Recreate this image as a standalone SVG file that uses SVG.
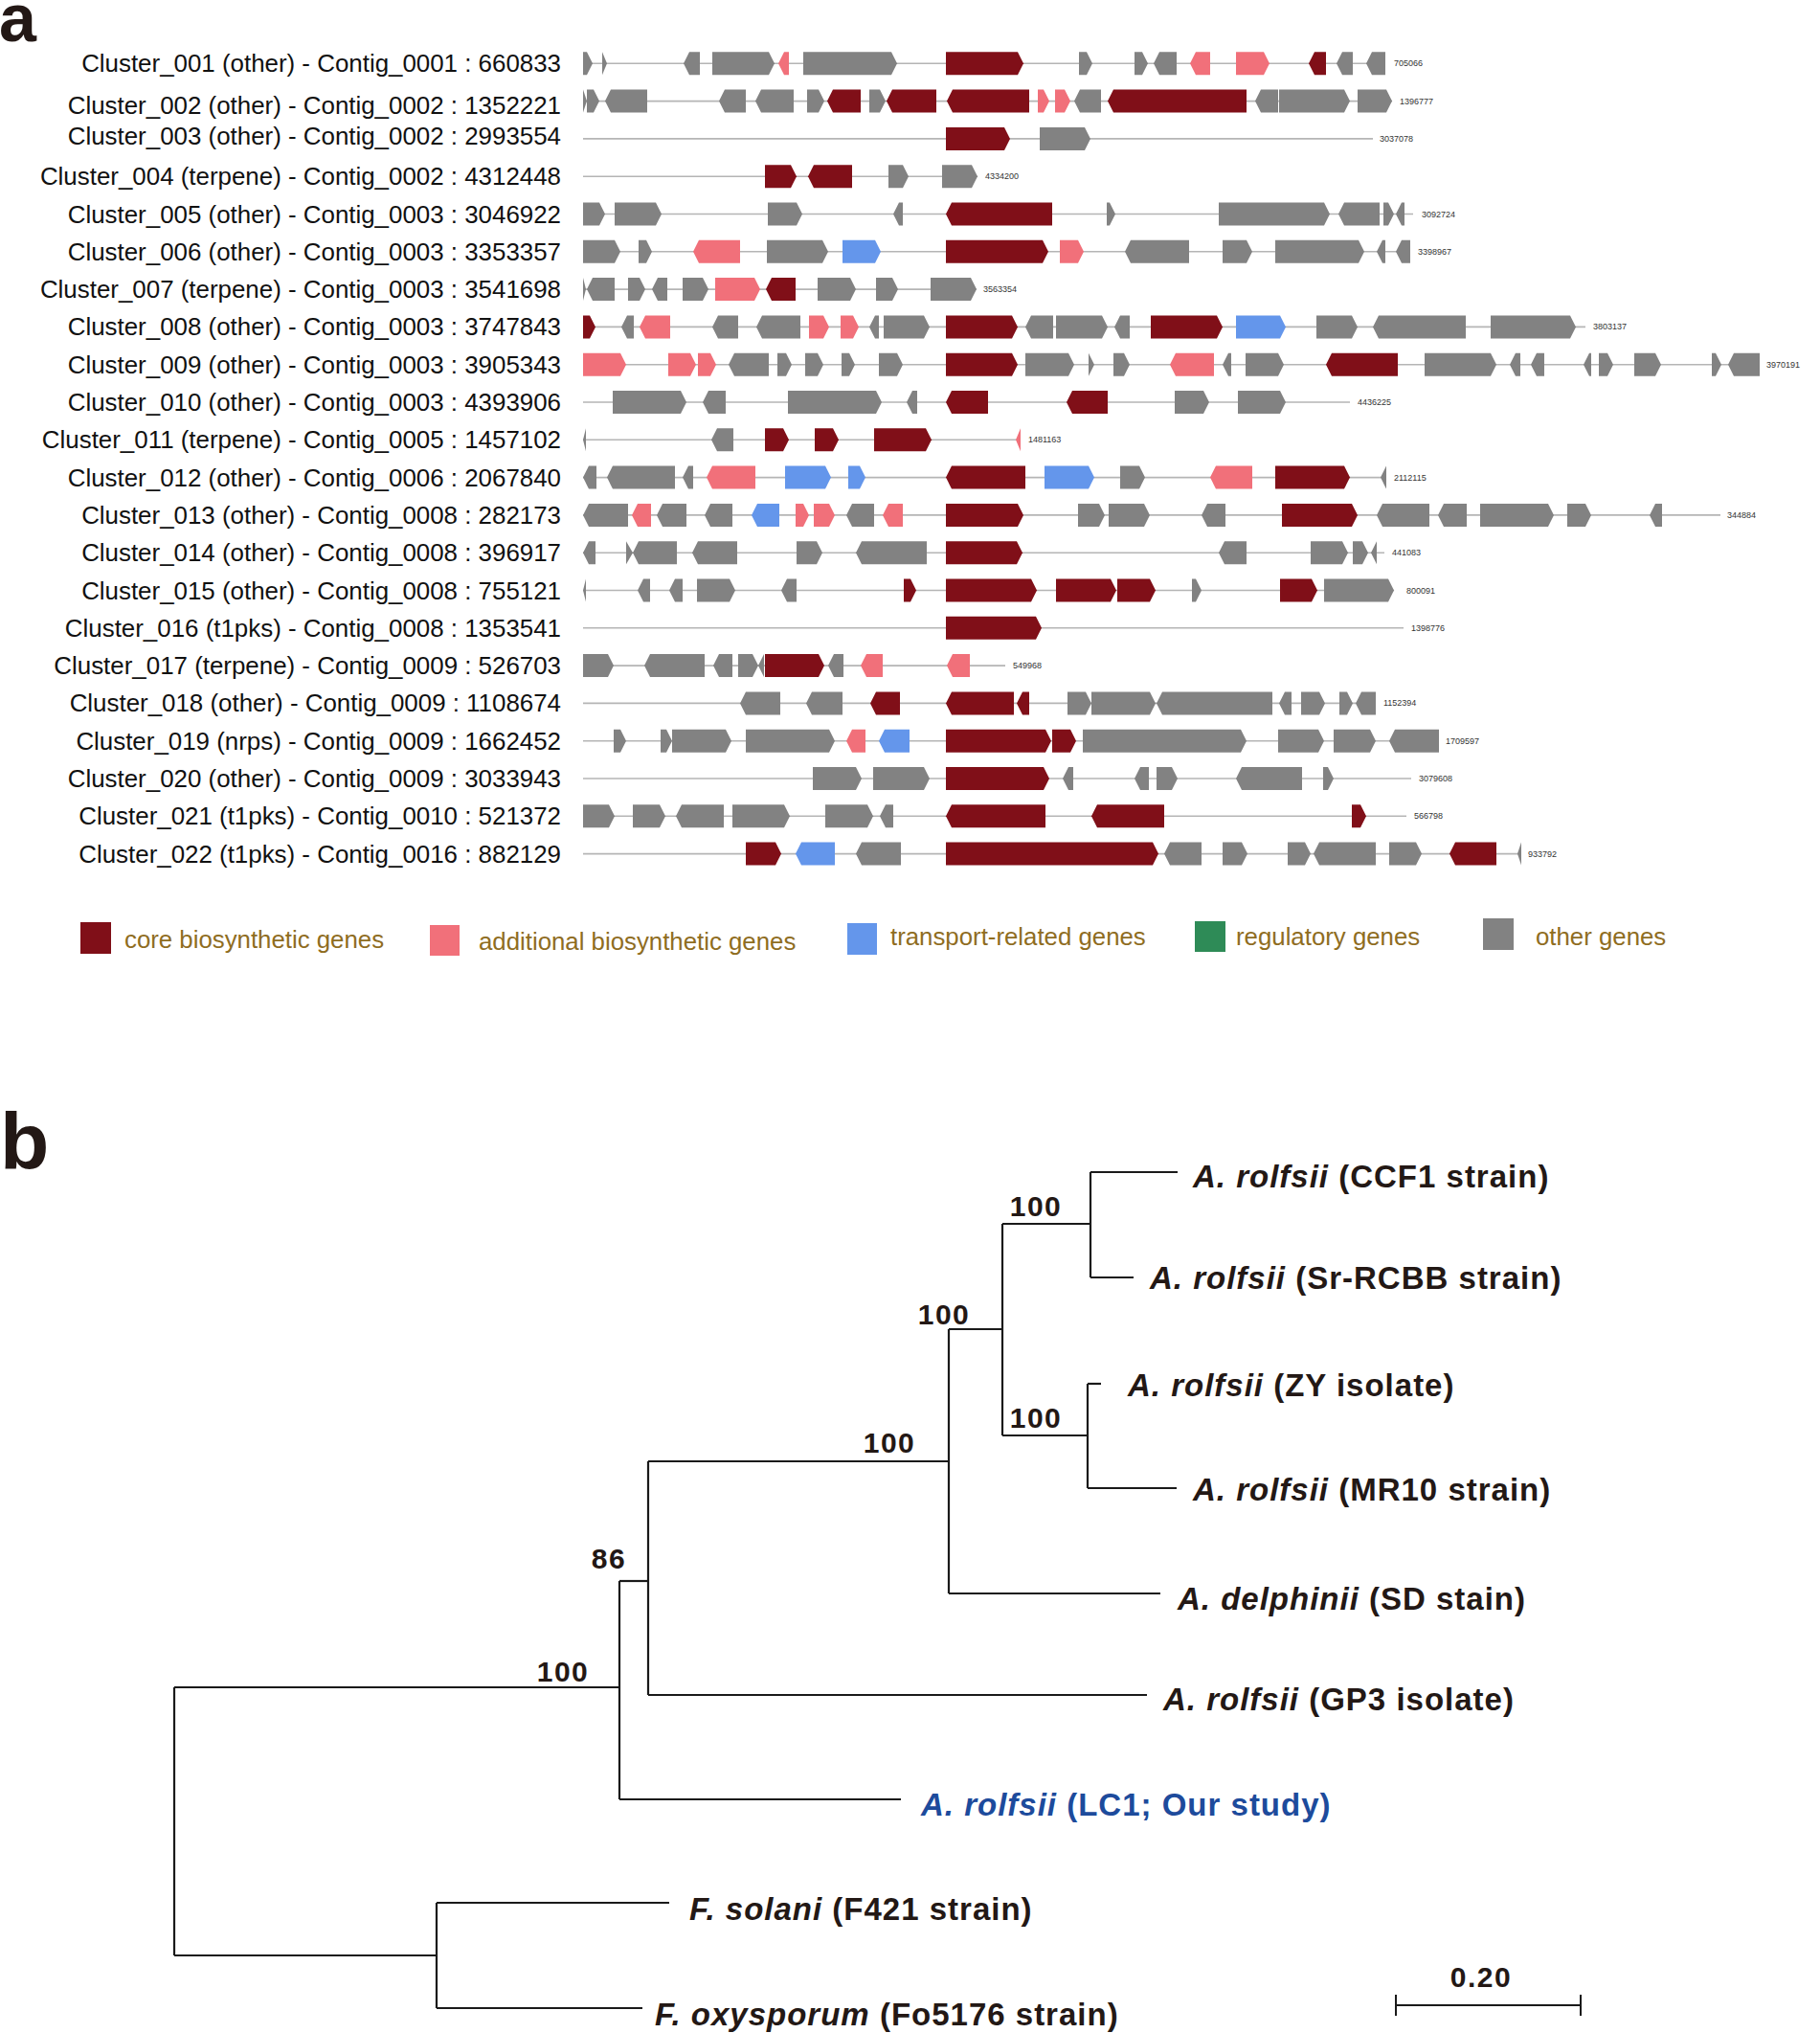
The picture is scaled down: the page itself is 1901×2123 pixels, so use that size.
<svg xmlns="http://www.w3.org/2000/svg" width="1901" height="2123" viewBox="0 0 1901 2123">
<style>
.c{fill:#800f18}.a{fill:#f1707a}.t{fill:#6496eb}.o{fill:#828282}.r{fill:#2e8b57}
.bb{stroke:#b5b5b5;stroke-width:1.6}
.lbl{font-family:"Liberation Sans",Arial,sans-serif;font-size:25.9px;text-anchor:end;fill:#111}
.end{font-family:"Liberation Sans",Arial,sans-serif;font-size:9px;fill:#333}
.leg{font-family:"Liberation Sans",Arial,sans-serif;font-size:25.8px;fill:#8f6d1f}
.pan{font-family:"Liberation Sans",Arial,sans-serif;font-weight:bold;fill:#231815}
.tree{stroke:#1a1a1a;stroke-width:2.2;fill:none}
.bs{font-family:"Liberation Sans",Arial,sans-serif;font-weight:bold;font-size:30px;fill:#231815;text-anchor:middle;letter-spacing:1.5px}
.leaf{font-family:"Liberation Sans",Arial,sans-serif;font-weight:bold;font-size:33px;fill:#231815;letter-spacing:1px}
.it{font-style:italic}
</style>
<text class="pan" x="-1" y="43" font-size="70">a</text>
<text class="pan" x="0" y="1221" font-size="84">b</text>

<g id="row01" transform="translate(0,66.3)">
<text class="lbl" x="586" y="9">Cluster_001 (other) - Contig_0001 : 660833</text>
<line class="bb" x1="609" y1="0" x2="1447" y2="0"/>
<polygon class="o" points="609,-12 613,-12 619,0 613,12 609,12"/>
<polygon class="o" points="629,-12 634,0 629,12"/>
<polygon class="o" points="714,0 720,-12 731,-12 731,12 720,12"/>
<polygon class="o" points="744,-12 803,-12 809,0 803,12 744,12"/>
<polygon class="a" points="813,0 819,-12 824,-12 824,12 819,12"/>
<polygon class="o" points="839,-12 931,-12 937,0 931,12 839,12"/>
<polygon class="c" points="988,-12 1063,-12 1069,0 1063,12 988,12"/>
<polygon class="o" points="1127,-12 1135,-12 1141,0 1135,12 1127,12"/>
<polygon class="o" points="1185,-12 1193,-12 1199,0 1193,12 1185,12"/>
<polygon class="o" points="1205,0 1211,-12 1229,-12 1229,12 1211,12"/>
<polygon class="a" points="1243,0 1249,-12 1264,-12 1264,12 1249,12"/>
<polygon class="a" points="1291,-12 1320,-12 1326,0 1320,12 1291,12"/>
<polygon class="c" points="1367,0 1373,-12 1385,-12 1385,12 1373,12"/>
<polygon class="o" points="1396,0 1402,-12 1413,-12 1413,12 1402,12"/>
<polygon class="o" points="1427,0 1433,-12 1447,-12 1447,12 1433,12"/>
<text class="end" x="1456" y="3">705066</text>
</g>

<g id="row02" transform="translate(0,105.6)">
<text class="lbl" x="586" y="13">Cluster_002 (other) - Contig_0002 : 1352221</text>
<line class="bb" x1="609" y1="0" x2="1454" y2="0"/>
<polygon class="o" points="609,-12 613,0 609,12"/>
<polygon class="o" points="613,-12 620,-12 626,0 620,12 613,12"/>
<polygon class="o" points="632,0 638,-12 676,-12 676,12 638,12"/>
<polygon class="o" points="751,0 757,-12 779,-12 779,12 757,12"/>
<polygon class="o" points="789,0 795,-12 829,-12 829,12 795,12"/>
<polygon class="o" points="843,-12 855,-12 861,0 855,12 843,12"/>
<polygon class="c" points="864,0 870,-12 899,-12 899,12 870,12"/>
<polygon class="o" points="908,-12 919,-12 925,0 919,12 908,12"/>
<polygon class="c" points="926,0 932,-12 978,-12 978,12 932,12"/>
<polygon class="c" points="989,0 995,-12 1075,-12 1075,12 995,12"/>
<polygon class="a" points="1084,-12 1090,-12 1096,0 1090,12 1084,12"/>
<polygon class="a" points="1102,-12 1112,-12 1118,0 1112,12 1102,12"/>
<polygon class="o" points="1122,0 1128,-12 1150,-12 1150,12 1128,12"/>
<polygon class="c" points="1157,0 1163,-12 1302,-12 1302,12 1163,12"/>
<polygon class="o" points="1311,0 1317,-12 1335,-12 1335,12 1317,12"/>
<polygon class="o" points="1336,-12 1404,-12 1410,0 1404,12 1336,12"/>
<polygon class="o" points="1418,-12 1448,-12 1454,0 1448,12 1418,12"/>
<text class="end" x="1462" y="3">1396777</text>
</g>

<g id="row03" transform="translate(0,144.9)">
<text class="lbl" x="586" y="6">Cluster_003 (other) - Contig_0002 : 2993554</text>
<line class="bb" x1="609" y1="0" x2="1434" y2="0"/>
<polygon class="c" points="988,-12 1049,-12 1055,0 1049,12 988,12"/>
<polygon class="o" points="1086,-12 1133,-12 1139,0 1133,12 1086,12"/>
<text class="end" x="1441" y="3">3037078</text>
</g>

<g id="row04" transform="translate(0,184.2)">
<text class="lbl" x="586" y="9">Cluster_004 (terpene) - Contig_0002 : 4312448</text>
<line class="bb" x1="609" y1="0" x2="1021" y2="0"/>
<polygon class="c" points="799,-12 826,-12 832,0 826,12 799,12"/>
<polygon class="c" points="844,0 850,-12 890,-12 890,12 850,12"/>
<polygon class="o" points="928,-12 943,-12 949,0 943,12 928,12"/>
<polygon class="o" points="984,-12 1015,-12 1021,0 1015,12 984,12"/>
<text class="end" x="1029" y="3">4334200</text>
</g>

<g id="row05" transform="translate(0,223.5)">
<text class="lbl" x="586" y="9">Cluster_005 (other) - Contig_0003 : 3046922</text>
<line class="bb" x1="609" y1="0" x2="1476" y2="0"/>
<polygon class="o" points="609,-12 626,-12 632,0 626,12 609,12"/>
<polygon class="o" points="642,-12 685,-12 691,0 685,12 642,12"/>
<polygon class="o" points="802,-12 832,-12 838,0 832,12 802,12"/>
<polygon class="o" points="933,0 939,-12 943,-12 943,12 939,12"/>
<polygon class="c" points="988,0 994,-12 1099,-12 1099,12 994,12"/>
<polygon class="o" points="1156,-12 1159,-12 1165,0 1159,12 1156,12"/>
<polygon class="o" points="1273,-12 1383,-12 1389,0 1383,12 1273,12"/>
<polygon class="o" points="1398,0 1404,-12 1441,-12 1441,12 1404,12"/>
<polygon class="o" points="1445,-12 1450,-12 1456,0 1450,12 1445,12"/>
<polygon class="o" points="1458,0 1464,-12 1467,-12 1467,12 1464,12"/>
<text class="end" x="1485" y="3">3092724</text>
</g>

<g id="row06" transform="translate(0,262.8)">
<text class="lbl" x="586" y="9">Cluster_006 (other) - Contig_0003 : 3353357</text>
<line class="bb" x1="609" y1="0" x2="1473" y2="0"/>
<polygon class="o" points="609,-12 642,-12 648,0 642,12 609,12"/>
<polygon class="o" points="667,-12 675,-12 681,0 675,12 667,12"/>
<polygon class="a" points="724,0 730,-12 773,-12 773,12 730,12"/>
<polygon class="o" points="801,-12 859,-12 865,0 859,12 801,12"/>
<polygon class="t" points="880,-12 914,-12 920,0 914,12 880,12"/>
<polygon class="c" points="988,-12 1089,-12 1095,0 1089,12 988,12"/>
<polygon class="a" points="1107,-12 1126,-12 1132,0 1126,12 1107,12"/>
<polygon class="o" points="1175,0 1181,-12 1242,-12 1242,12 1181,12"/>
<polygon class="o" points="1277,-12 1302,-12 1308,0 1302,12 1277,12"/>
<polygon class="o" points="1332,-12 1419,-12 1425,0 1419,12 1332,12"/>
<polygon class="o" points="1438,0 1444,-12 1447,-12 1447,12 1444,12"/>
<polygon class="o" points="1458,0 1464,-12 1473,-12 1473,12 1464,12"/>
<text class="end" x="1481" y="3">3398967</text>
</g>

<g id="row07" transform="translate(0,302.1)">
<text class="lbl" x="586" y="9">Cluster_007 (terpene) - Contig_0003 : 3541698</text>
<line class="bb" x1="609" y1="0" x2="1020" y2="0"/>
<polygon class="o" points="609,-12 612,0 609,12"/>
<polygon class="o" points="613,0 619,-12 642,-12 642,12 619,12"/>
<polygon class="o" points="656,-12 668,-12 674,0 668,12 656,12"/>
<polygon class="o" points="681,0 687,-12 697,-12 697,12 687,12"/>
<polygon class="o" points="713,-12 734,-12 740,0 734,12 713,12"/>
<polygon class="a" points="747,-12 788,-12 794,0 788,12 747,12"/>
<polygon class="c" points="800,0 806,-12 831,-12 831,12 806,12"/>
<polygon class="o" points="854,-12 888,-12 894,0 888,12 854,12"/>
<polygon class="o" points="915,-12 932,-12 938,0 932,12 915,12"/>
<polygon class="o" points="972,-12 1014,-12 1020,0 1014,12 972,12"/>
<text class="end" x="1027" y="3">3563354</text>
</g>

<g id="row08" transform="translate(0,341.4)">
<text class="lbl" x="586" y="9">Cluster_008 (other) - Contig_0003 : 3747843</text>
<line class="bb" x1="609" y1="0" x2="1656" y2="0"/>
<polygon class="c" points="609,-12 616,-12 622,0 616,12 609,12"/>
<polygon class="o" points="649,0 655,-12 662,-12 662,12 655,12"/>
<polygon class="a" points="668,0 674,-12 700,-12 700,12 674,12"/>
<polygon class="o" points="744,0 750,-12 771,-12 771,12 750,12"/>
<polygon class="o" points="790,0 796,-12 836,-12 836,12 796,12"/>
<polygon class="a" points="845,-12 860,-12 866,0 860,12 845,12"/>
<polygon class="a" points="878,-12 891,-12 897,0 891,12 878,12"/>
<polygon class="o" points="908,0 914,-12 918,-12 918,12 914,12"/>
<polygon class="o" points="923,-12 965,-12 971,0 965,12 923,12"/>
<polygon class="c" points="988,-12 1057,-12 1063,0 1057,12 988,12"/>
<polygon class="o" points="1071,0 1077,-12 1100,-12 1100,12 1077,12"/>
<polygon class="o" points="1103,-12 1151,-12 1157,0 1151,12 1103,12"/>
<polygon class="o" points="1164,0 1170,-12 1180,-12 1180,12 1170,12"/>
<polygon class="c" points="1202,-12 1271,-12 1277,0 1271,12 1202,12"/>
<polygon class="t" points="1291,-12 1337,-12 1343,0 1337,12 1291,12"/>
<polygon class="o" points="1375,-12 1412,-12 1418,0 1412,12 1375,12"/>
<polygon class="o" points="1434,0 1440,-12 1531,-12 1531,12 1440,12"/>
<polygon class="o" points="1557,-12 1640,-12 1646,0 1640,12 1557,12"/>
<text class="end" x="1664" y="3">3803137</text>
</g>

<g id="row09" transform="translate(0,380.7)">
<text class="lbl" x="586" y="9">Cluster_009 (other) - Contig_0003 : 3905343</text>
<line class="bb" x1="609" y1="0" x2="1838" y2="0"/>
<polygon class="a" points="609,-12 648,-12 654,0 648,12 609,12"/>
<polygon class="a" points="698,-12 721,-12 727,0 721,12 698,12"/>
<polygon class="a" points="729,-12 742,-12 748,0 742,12 729,12"/>
<polygon class="o" points="761,0 767,-12 803,-12 803,12 767,12"/>
<polygon class="o" points="812,-12 821,-12 827,0 821,12 812,12"/>
<polygon class="o" points="841,-12 854,-12 860,0 854,12 841,12"/>
<polygon class="o" points="879,-12 887,-12 893,0 887,12 879,12"/>
<polygon class="o" points="918,-12 937,-12 943,0 937,12 918,12"/>
<polygon class="c" points="988,-12 1057,-12 1063,0 1057,12 988,12"/>
<polygon class="o" points="1071,-12 1116,-12 1122,0 1116,12 1071,12"/>
<polygon class="o" points="1137,-12 1143,0 1137,12"/>
<polygon class="o" points="1163,-12 1174,-12 1180,0 1174,12 1163,12"/>
<polygon class="a" points="1222,0 1228,-12 1268,-12 1268,12 1228,12"/>
<polygon class="o" points="1277,0 1283,-12 1286,-12 1286,12 1283,12"/>
<polygon class="o" points="1301,-12 1335,-12 1341,0 1335,12 1301,12"/>
<polygon class="c" points="1385,0 1391,-12 1460,-12 1460,12 1391,12"/>
<polygon class="o" points="1488,-12 1557,-12 1563,0 1557,12 1488,12"/>
<polygon class="o" points="1577,0 1583,-12 1588,-12 1588,12 1583,12"/>
<polygon class="o" points="1599,0 1605,-12 1613,-12 1613,12 1605,12"/>
<polygon class="o" points="1654,0 1660,-12 1662,-12 1662,12 1660,12"/>
<polygon class="o" points="1670,-12 1679,-12 1685,0 1679,12 1670,12"/>
<polygon class="o" points="1707,-12 1729,-12 1735,0 1729,12 1707,12"/>
<polygon class="o" points="1788,-12 1792,-12 1798,0 1792,12 1788,12"/>
<polygon class="o" points="1805,0 1811,-12 1838,-12 1838,12 1811,12"/>
<text class="end" x="1845" y="3">3970191</text>
</g>

<g id="row10" transform="translate(0,420)">
<text class="lbl" x="586" y="9">Cluster_010 (other) - Contig_0003 : 4393906</text>
<line class="bb" x1="609" y1="0" x2="1410" y2="0"/>
<polygon class="o" points="640,-12 711,-12 717,0 711,12 640,12"/>
<polygon class="o" points="734,0 740,-12 758,-12 758,12 740,12"/>
<polygon class="o" points="823,-12 915,-12 921,0 915,12 823,12"/>
<polygon class="o" points="947,0 953,-12 958,-12 958,12 953,12"/>
<polygon class="c" points="988,0 994,-12 1032,-12 1032,12 994,12"/>
<polygon class="c" points="1114,0 1120,-12 1157,-12 1157,12 1120,12"/>
<polygon class="o" points="1227,-12 1257,-12 1263,0 1257,12 1227,12"/>
<polygon class="o" points="1293,-12 1337,-12 1343,0 1337,12 1293,12"/>
<text class="end" x="1418" y="3">4436225</text>
</g>

<g id="row11" transform="translate(0,459.3)">
<text class="lbl" x="586" y="9">Cluster_011 (terpene) - Contig_0005 : 1457102</text>
<line class="bb" x1="609" y1="0" x2="1066" y2="0"/>
<polygon class="o" points="609,0 612,-12 612,12"/>
<polygon class="o" points="743,0 749,-12 766,-12 766,12 749,12"/>
<polygon class="c" points="799,-12 818,-12 824,0 818,12 799,12"/>
<polygon class="c" points="851,-12 870,-12 876,0 870,12 851,12"/>
<polygon class="c" points="913,-12 967,-12 973,0 967,12 913,12"/>
<polygon class="a" points="1061,0 1066,-12 1066,12"/>
<text class="end" x="1074" y="3">1481163</text>
</g>

<g id="row12" transform="translate(0,498.6)">
<text class="lbl" x="586" y="9">Cluster_012 (other) - Contig_0006 : 2067840</text>
<line class="bb" x1="609" y1="0" x2="1448" y2="0"/>
<polygon class="o" points="609,0 615,-12 623,-12 623,12 615,12"/>
<polygon class="o" points="634,0 640,-12 705,-12 705,12 640,12"/>
<polygon class="o" points="713,0 719,-12 724,-12 724,12 719,12"/>
<polygon class="a" points="738,0 744,-12 789,-12 789,12 744,12"/>
<polygon class="t" points="820,-12 862,-12 868,0 862,12 820,12"/>
<polygon class="t" points="886,-12 898,-12 904,0 898,12 886,12"/>
<polygon class="c" points="988,0 994,-12 1071,-12 1071,12 994,12"/>
<polygon class="t" points="1091,-12 1137,-12 1143,0 1137,12 1091,12"/>
<polygon class="o" points="1170,-12 1190,-12 1196,0 1190,12 1170,12"/>
<polygon class="a" points="1264,0 1270,-12 1308,-12 1308,12 1270,12"/>
<polygon class="c" points="1332,-12 1404,-12 1410,0 1404,12 1332,12"/>
<polygon class="o" points="1442,0 1448,-12 1448,12"/>
<text class="end" x="1456" y="3">2112115</text>
</g>

<g id="row13" transform="translate(0,537.9)">
<text class="lbl" x="586" y="9">Cluster_013 (other) - Contig_0008 : 282173</text>
<line class="bb" x1="609" y1="0" x2="1797" y2="0"/>
<polygon class="o" points="609,0 615,-12 656,-12 656,12 615,12"/>
<polygon class="a" points="660,0 666,-12 680,-12 680,12 666,12"/>
<polygon class="o" points="686,0 692,-12 717,-12 717,12 692,12"/>
<polygon class="o" points="736,0 742,-12 765,-12 765,12 742,12"/>
<polygon class="t" points="785,0 791,-12 814,-12 814,12 791,12"/>
<polygon class="a" points="831,-12 839,-12 845,0 839,12 831,12"/>
<polygon class="a" points="850,-12 866,-12 872,0 866,12 850,12"/>
<polygon class="o" points="884,0 890,-12 913,-12 913,12 890,12"/>
<polygon class="a" points="922,0 928,-12 943,-12 943,12 928,12"/>
<polygon class="c" points="988,-12 1063,-12 1069,0 1063,12 988,12"/>
<polygon class="o" points="1126,-12 1148,-12 1154,0 1148,12 1126,12"/>
<polygon class="o" points="1158,-12 1195,-12 1201,0 1195,12 1158,12"/>
<polygon class="o" points="1255,0 1261,-12 1280,-12 1280,12 1261,12"/>
<polygon class="c" points="1339,-12 1412,-12 1418,0 1412,12 1339,12"/>
<polygon class="o" points="1438,0 1444,-12 1493,-12 1493,12 1444,12"/>
<polygon class="o" points="1502,0 1508,-12 1532,-12 1532,12 1508,12"/>
<polygon class="o" points="1546,-12 1617,-12 1623,0 1617,12 1546,12"/>
<polygon class="o" points="1637,-12 1656,-12 1662,0 1656,12 1637,12"/>
<polygon class="o" points="1723,0 1729,-12 1736,-12 1736,12 1729,12"/>
<text class="end" x="1804" y="3">344884</text>
</g>

<g id="row14" transform="translate(0,577.2)">
<text class="lbl" x="586" y="9">Cluster_014 (other) - Contig_0008 : 396917</text>
<line class="bb" x1="609" y1="0" x2="1446" y2="0"/>
<polygon class="o" points="609,0 615,-12 622,-12 622,12 615,12"/>
<polygon class="o" points="654,-12 661,0 654,12"/>
<polygon class="o" points="661,0 667,-12 707,-12 707,12 667,12"/>
<polygon class="o" points="723,0 729,-12 770,-12 770,12 729,12"/>
<polygon class="o" points="832,-12 853,-12 859,0 853,12 832,12"/>
<polygon class="o" points="894,0 900,-12 968,-12 968,12 900,12"/>
<polygon class="c" points="988,-12 1062,-12 1068,0 1062,12 988,12"/>
<polygon class="o" points="1273,0 1279,-12 1302,-12 1302,12 1279,12"/>
<polygon class="o" points="1369,-12 1402,-12 1408,0 1402,12 1369,12"/>
<polygon class="o" points="1413,-12 1423,-12 1429,0 1423,12 1413,12"/>
<polygon class="o" points="1432,0 1438,-12 1438,12"/>
<text class="end" x="1454" y="3">441083</text>
</g>

<g id="row15" transform="translate(0,616.5)">
<text class="lbl" x="586" y="9">Cluster_015 (other) - Contig_0008 : 755121</text>
<line class="bb" x1="609" y1="0" x2="1456" y2="0"/>
<polygon class="o" points="609,0 612,-12 612,12"/>
<polygon class="o" points="666,0 672,-12 679,-12 679,12 672,12"/>
<polygon class="o" points="699,0 705,-12 713,-12 713,12 705,12"/>
<polygon class="o" points="728,-12 762,-12 768,0 762,12 728,12"/>
<polygon class="o" points="816,0 822,-12 832,-12 832,12 822,12"/>
<polygon class="c" points="944,-12 951,-12 957,0 951,12 944,12"/>
<polygon class="c" points="988,-12 1077,-12 1083,0 1077,12 988,12"/>
<polygon class="c" points="1103,-12 1160,-12 1166,0 1160,12 1103,12"/>
<polygon class="c" points="1167,-12 1201,-12 1207,0 1201,12 1167,12"/>
<polygon class="o" points="1245,-12 1249,-12 1255,0 1249,12 1245,12"/>
<polygon class="c" points="1337,-12 1370,-12 1376,0 1370,12 1337,12"/>
<polygon class="o" points="1383,-12 1450,-12 1456,0 1450,12 1383,12"/>
<text class="end" x="1469" y="3">800091</text>
</g>

<g id="row16" transform="translate(0,655.8)">
<text class="lbl" x="586" y="9">Cluster_016 (t1pks) - Contig_0008 : 1353541</text>
<line class="bb" x1="609" y1="0" x2="1466" y2="0"/>
<polygon class="c" points="988,-12 1082,-12 1088,0 1082,12 988,12"/>
<text class="end" x="1474" y="3">1398776</text>
</g>

<g id="row17" transform="translate(0,695.1)">
<text class="lbl" x="586" y="9">Cluster_017 (terpene) - Contig_0009 : 526703</text>
<line class="bb" x1="609" y1="0" x2="1050" y2="0"/>
<polygon class="o" points="609,-12 635,-12 641,0 635,12 609,12"/>
<polygon class="o" points="673,0 679,-12 736,-12 736,12 679,12"/>
<polygon class="o" points="745,0 751,-12 765,-12 765,12 751,12"/>
<polygon class="o" points="771,-12 786,-12 792,0 786,12 771,12"/>
<polygon class="o" points="792,0 798,-12 798,12"/>
<polygon class="c" points="799,-12 855,-12 861,0 855,12 799,12"/>
<polygon class="o" points="865,0 871,-12 881,-12 881,12 871,12"/>
<polygon class="a" points="899,0 905,-12 922,-12 922,12 905,12"/>
<polygon class="a" points="989,0 995,-12 1013,-12 1013,12 995,12"/>
<text class="end" x="1058" y="3">549968</text>
</g>

<g id="row18" transform="translate(0,734.4)">
<text class="lbl" x="586" y="9">Cluster_018 (other) - Contig_0009 : 1108674</text>
<line class="bb" x1="609" y1="0" x2="1437" y2="0"/>
<polygon class="o" points="773,0 779,-12 815,-12 815,12 779,12"/>
<polygon class="o" points="842,0 848,-12 880,-12 880,12 848,12"/>
<polygon class="c" points="909,0 915,-12 940,-12 940,12 915,12"/>
<polygon class="c" points="988,0 994,-12 1059,-12 1059,12 994,12"/>
<polygon class="c" points="1062,0 1068,-12 1075,-12 1075,12 1068,12"/>
<polygon class="o" points="1115,-12 1134,-12 1140,0 1134,12 1115,12"/>
<polygon class="o" points="1140,-12 1201,-12 1207,0 1201,12 1140,12"/>
<polygon class="o" points="1208,0 1214,-12 1329,-12 1329,12 1214,12"/>
<polygon class="o" points="1336,0 1342,-12 1349,-12 1349,12 1342,12"/>
<polygon class="o" points="1359,-12 1378,-12 1384,0 1378,12 1359,12"/>
<polygon class="o" points="1399,-12 1407,-12 1413,0 1407,12 1399,12"/>
<polygon class="o" points="1416,0 1422,-12 1437,-12 1437,12 1422,12"/>
<text class="end" x="1445" y="3">1152394</text>
</g>

<g id="row19" transform="translate(0,773.7)">
<text class="lbl" x="586" y="9">Cluster_019 (nrps) - Contig_0009 : 1662452</text>
<line class="bb" x1="609" y1="0" x2="1503" y2="0"/>
<polygon class="o" points="641,-12 648,-12 654,0 648,12 641,12"/>
<polygon class="o" points="690,-12 696,-12 702,0 696,12 690,12"/>
<polygon class="o" points="702,-12 758,-12 764,0 758,12 702,12"/>
<polygon class="o" points="779,-12 866,-12 872,0 866,12 779,12"/>
<polygon class="a" points="884,0 890,-12 904,-12 904,12 890,12"/>
<polygon class="t" points="918,0 924,-12 950,-12 950,12 924,12"/>
<polygon class="c" points="988,-12 1092,-12 1098,0 1092,12 988,12"/>
<polygon class="c" points="1099,-12 1118,-12 1124,0 1118,12 1099,12"/>
<polygon class="o" points="1131,-12 1296,-12 1302,0 1296,12 1131,12"/>
<polygon class="o" points="1335,-12 1377,-12 1383,0 1377,12 1335,12"/>
<polygon class="o" points="1393,-12 1431,-12 1437,0 1431,12 1393,12"/>
<polygon class="o" points="1451,0 1457,-12 1503,-12 1503,12 1457,12"/>
<text class="end" x="1510" y="3">1709597</text>
</g>

<g id="row20" transform="translate(0,813)">
<text class="lbl" x="586" y="9">Cluster_020 (other) - Contig_0009 : 3033943</text>
<line class="bb" x1="609" y1="0" x2="1474" y2="0"/>
<polygon class="o" points="849,-12 894,-12 900,0 894,12 849,12"/>
<polygon class="o" points="912,-12 965,-12 971,0 965,12 912,12"/>
<polygon class="c" points="988,-12 1090,-12 1096,0 1090,12 988,12"/>
<polygon class="o" points="1110,0 1116,-12 1121,-12 1121,12 1116,12"/>
<polygon class="o" points="1185,0 1191,-12 1200,-12 1200,12 1191,12"/>
<polygon class="o" points="1208,-12 1224,-12 1230,0 1224,12 1208,12"/>
<polygon class="o" points="1291,0 1297,-12 1360,-12 1360,12 1297,12"/>
<polygon class="o" points="1382,-12 1387,-12 1393,0 1387,12 1382,12"/>
<text class="end" x="1482" y="3">3079608</text>
</g>

<g id="row21" transform="translate(0,852.3)">
<text class="lbl" x="586" y="9">Cluster_021 (t1pks) - Contig_0010 : 521372</text>
<line class="bb" x1="609" y1="0" x2="1469" y2="0"/>
<polygon class="o" points="609,-12 636,-12 642,0 636,12 609,12"/>
<polygon class="o" points="661,-12 689,-12 695,0 689,12 661,12"/>
<polygon class="o" points="706,0 712,-12 756,-12 756,12 712,12"/>
<polygon class="o" points="765,-12 819,-12 825,0 819,12 765,12"/>
<polygon class="o" points="862,-12 906,-12 912,0 906,12 862,12"/>
<polygon class="o" points="919,0 925,-12 933,-12 933,12 925,12"/>
<polygon class="c" points="988,0 994,-12 1092,-12 1092,12 994,12"/>
<polygon class="c" points="1140,0 1146,-12 1216,-12 1216,12 1146,12"/>
<polygon class="c" points="1412,-12 1421,-12 1427,0 1421,12 1412,12"/>
<text class="end" x="1477" y="3">566798</text>
</g>

<g id="row22" transform="translate(0,891.6)">
<text class="lbl" x="586" y="9">Cluster_022 (t1pks) - Contig_0016 : 882129</text>
<line class="bb" x1="609" y1="0" x2="1589" y2="0"/>
<polygon class="c" points="779,-12 810,-12 816,0 810,12 779,12"/>
<polygon class="t" points="831,0 837,-12 872,-12 872,12 837,12"/>
<polygon class="o" points="894,0 900,-12 941,-12 941,12 900,12"/>
<polygon class="c" points="988,-12 1204,-12 1210,0 1204,12 988,12"/>
<polygon class="o" points="1216,0 1222,-12 1255,-12 1255,12 1222,12"/>
<polygon class="o" points="1277,-12 1297,-12 1303,0 1297,12 1277,12"/>
<polygon class="o" points="1345,-12 1363,-12 1369,0 1363,12 1345,12"/>
<polygon class="o" points="1372,0 1378,-12 1437,-12 1437,12 1378,12"/>
<polygon class="o" points="1451,-12 1479,-12 1485,0 1479,12 1451,12"/>
<polygon class="c" points="1514,0 1520,-12 1563,-12 1563,12 1520,12"/>
<polygon class="o" points="1585,0 1589,-12 1589,12"/>
<text class="end" x="1596" y="3">933792</text>
</g>

<g id="legend">
<rect class="c" x="84" y="963" width="32" height="33"/>
<text class="leg" x="130" y="990">core biosynthetic genes</text>
<rect class="a" x="449" y="966" width="31" height="32"/>
<text class="leg" x="500" y="992">additional biosynthetic genes</text>
<rect class="t" x="885" y="964" width="31" height="33"/>
<text class="leg" x="930" y="987">transport-related genes</text>
<rect class="r" x="1248" y="962" width="32" height="32"/>
<text class="leg" x="1291" y="987">regulatory genes</text>
<rect class="o" x="1549" y="959" width="32" height="33"/>
<text class="leg" x="1604" y="987">other genes</text>
</g>

<g id="connectors" class="tree">
<path d="M182,1762 V2042"/>
<path d="M182,1762 H647"/>
<path d="M647,1651 V1879"/>
<path d="M647,1879 H941"/>
<path d="M647,1651 H677"/>
<path d="M677,1526 V1770"/>
<path d="M677,1770 H1198"/>
<path d="M677,1526 H991"/>
<path d="M991,1388 V1664"/>
<path d="M991,1664 H1212"/>
<path d="M991,1388 H1047"/>
<path d="M1047,1278 V1499"/>
<path d="M1047,1278 H1139"/>
<path d="M1139,1224 V1334"/>
<path d="M1139,1224 H1230"/>
<path d="M1139,1334 H1184"/>
<path d="M1047,1499 H1136"/>
<path d="M1136,1445 V1554"/>
<path d="M1136,1445 H1150"/>
<path d="M1136,1554 H1229"/>
<path d="M182,2042 H456"/>
<path d="M456,1987 V2097"/>
<path d="M456,1987 H699"/>
<path d="M456,2097 H671"/>
</g>

<g id="bootstrap">
<text class="bs" x="1082" y="1270">100</text>
<text class="bs" x="986" y="1383">100</text>
<text class="bs" x="1082" y="1491">100</text>
<text class="bs" x="929" y="1517">100</text>
<text class="bs" x="636" y="1638">86</text>
<text class="bs" x="588" y="1756">100</text>
</g>

<g id="leaf_ccf1"><text class="leaf" x="1246" y="1240"><tspan class="it">A. rolfsii</tspan> (CCF1 strain)</text></g>
<g id="leaf_srrcbb"><text class="leaf" x="1201" y="1346"><tspan class="it">A. rolfsii</tspan> (Sr-RCBB strain)</text></g>
<g id="leaf_zy"><text class="leaf" x="1178" y="1458"><tspan class="it">A. rolfsii</tspan> (ZY isolate)</text></g>
<g id="leaf_mr10"><text class="leaf" x="1246" y="1567"><tspan class="it">A. rolfsii</tspan> (MR10 strain)</text></g>
<g id="leaf_sd"><text class="leaf" x="1230" y="1681"><tspan class="it">A. delphinii</tspan> (SD stain)</text></g>
<g id="leaf_gp3"><text class="leaf" x="1215" y="1786"><tspan class="it">A. rolfsii</tspan> (GP3 isolate)</text></g>
<g id="leaf_lc1"><text class="leaf" x="962" y="1896" style="fill:#1d4b9c"><tspan class="it">A. rolfsii</tspan> (LC1; Our study)</text></g>
<g id="leaf_fsolani"><text class="leaf" x="720" y="2005"><tspan class="it">F. solani</tspan> (F421 strain)</text></g>
<g id="leaf_foxy"><text class="leaf" x="684" y="2115"><tspan class="it">F. oxysporum</tspan> (Fo5176 strain)</text></g>

<g id="scalebar">
<path class="tree" d="M1458,2094 H1651 M1458,2083 V2105 M1651,2083 V2105" style="stroke-width:2"/>
<text class="bs" x="1547" y="2075">0.20</text>
</g>
</svg>
